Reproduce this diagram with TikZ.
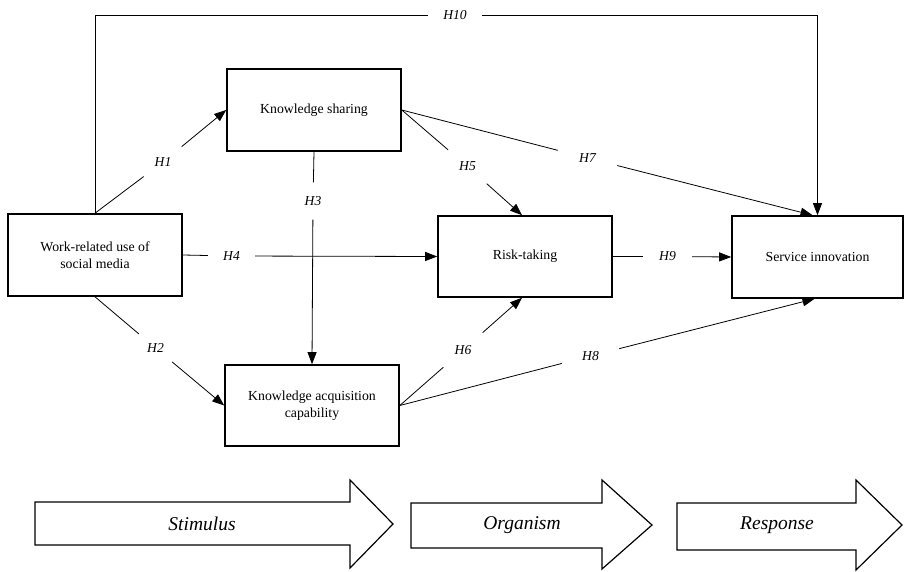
\documentclass[tikz,border=0pt]{standalone}
\usepackage{fontspec}
\setmainfont{Liberation Serif}
\usetikzlibrary{arrows.meta,calc}
\begin{document}
\begin{tikzpicture}[x=1pt,y=-1pt,
  box/.style={draw, line width=1.6pt, minimum width=174pt, minimum height=82pt, inner sep=0pt, align=center, font=\fontsize{13.8}{16.7}\selectfont},
  hyp/.style={circle, inner sep=0pt, minimum size=#1, font=\fontsize{13.6}{16}\selectfont\itshape},
  conn/.style={line width=0.8pt},
  arr/.style={conn, -{Triangle[length=12pt,width=9pt]}},
  bigarrow/.style={draw, line width=1.2pt, fill=white, line join=miter},
  stage/.style={font=\fontsize{19.5}{22}\selectfont\itshape, inner sep=0pt}
]
\useasboundingbox (0,0) rectangle (904,572);

% boxes
\node[box] (work) at (95,255) {Work-related use of\\social media};
\node[box] (ks) at (314,110) {Knowledge sharing};
\node[box, minimum height=81pt] (rt) at (525,256.5) {Risk-taking};
\node[box, minimum width=171pt] (si) at (817.5,257) {Service innovation};
\node[box, minimum height=81pt] (kac) at (312,405.5) {Knowledge acquisition\\capability};

% hypothesis labels (gaps)
\node[hyp=48pt] (h1) at (163,162) {H1};
\node[hyp=43pt] (h2) at (155.5,348) {H2};
\node[hyp=37pt] (h3) at (313,201) {H3};
\node[hyp=47pt] (h4) at (231.5,256) {H4};
\node[hyp=51pt] (h5) at (467.5,166.5) {H5};
\node[hyp=52pt] (h6) at (463,350) {H6};
\node[hyp=61pt] (h7) at (587.5,158) {H7};
\node[hyp=59pt] (h8) at (590.5,356) {H8};
\node[hyp=49pt] (h9) at (667.5,256.5) {H9};
\node[hyp=54pt] (h10) at (455,15) {H10};

% connectors
\draw[conn] (work.north) -- (h1);  \draw[arr] (h1) -- (ks.west);
\draw[conn] (work.south) -- (h2);  \draw[arr] (h2) -- (kac.west);
\draw[conn] (ks.south) -- (h3);    \draw[arr] (h3) -- (kac.north);
\draw[conn] (work.east) -- (h4);   \draw[arr] (h4) -- (rt.west);
\draw[conn] (ks.east) -- (h5);     \draw[arr] (h5) -- ($(rt.north)+(-3,0)$);
\draw[conn] (kac.east) -- (h6);    \draw[arr] (h6) -- ($(rt.south)+(-3,0)$);
\draw[conn] (ks.east) -- (h7);     \draw[arr] (h7) -- ($(si.north)+(-5,0)$);
\draw[conn] (kac.east) -- (h8);    \draw[arr] (h8) -- ($(si.south)+(-3,0)$);
\draw[conn] (rt.east) -- (h9);     \draw[arr] (h9) -- (si.west);
\draw[conn] (work.north) |- (h10.west);
\draw[arr] (h10.east) -| (si.north);

% stage arrows
\draw[bigarrow] (35,502) -- (350,502) -- (350,480) -- (393,524) -- (350,568) -- (350,545) -- (35,545) -- cycle;
\node[stage] (stim) at (202,524) {Stimulus};
\draw[bigarrow] (411,503) -- (602,503) -- (602,480) -- (652,525) -- (602,569) -- (602,548) -- (411,548) -- cycle;
\node[stage] (org) at (522,525) {Organism};
\draw[bigarrow] (677,503) -- (856,503) -- (856,480) -- (902,525) -- (856,570) -- (856,550) -- (677,550) -- cycle;
\node[stage] (resp) at (777,525) {Response};
\end{tikzpicture}
\end{document}
